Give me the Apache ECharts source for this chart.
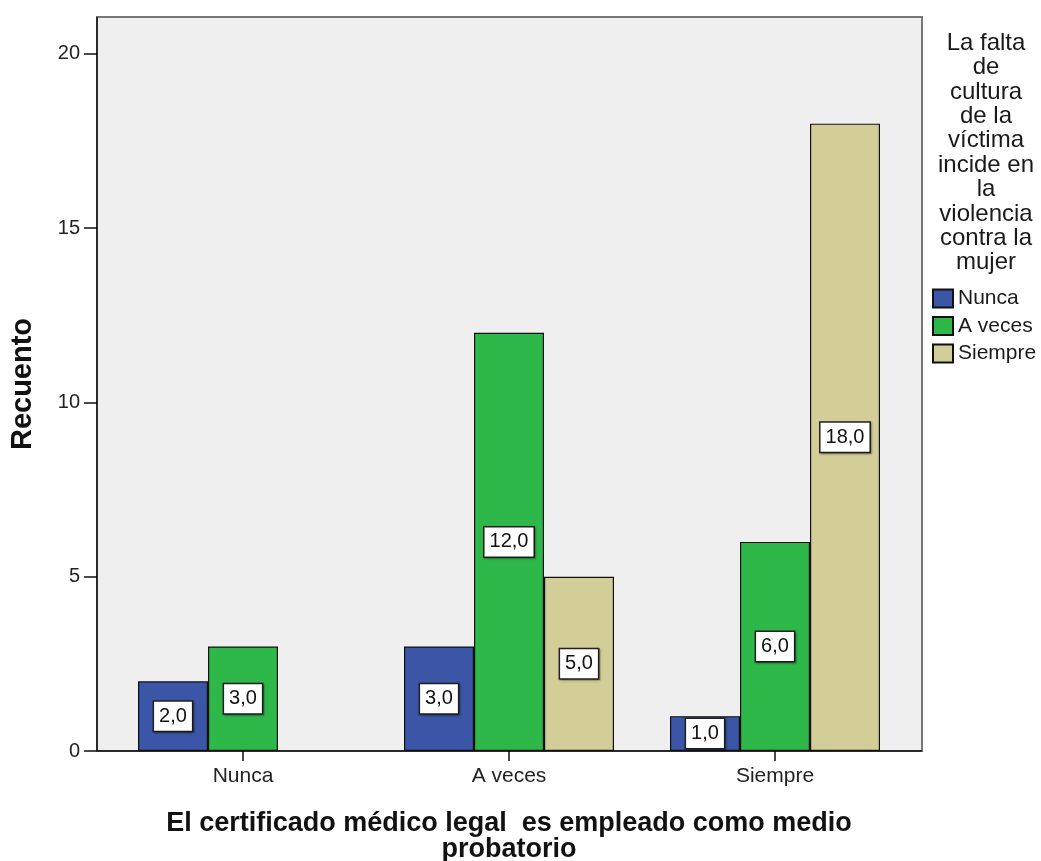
<!DOCTYPE html>
<html>
<head>
<meta charset="utf-8">
<script src="https://cdn.jsdelivr.net/npm/echarts@6/dist/echarts.min.js"></script>
<style>
html,body{margin:0;padding:0;background:#fff}
#chart{width:1041px;height:861px}
</style>
</head>
<body>
<div id="chart"></div>
<script>
// datos
var categorias = ['Nunca', 'A veces', 'Siempre']
var serieNombres = ['Nunca', 'A veces', 'Siempre']
var valNunca = [2, 3, 1]
var valAveces = [3, 12, 6]
var valSiempre = [0, 5, 18]
var ticksY = [0, 5, 10, 15, 20]
var colores = ['#3b56a6', '#2fb84a', '#d3ce98']

var fuente = '"Liberation Sans", Arial, sans-serif'
var todos = [valNunca, valAveces, valSiempre]

var series = []
for (var i = 0; i < serieNombres.length; i++) {
    series.push({
        name: serieNombres[i],
        type: 'bar',
        barWidth: 70,
        barGap: '0%',
        data: todos[i].map(function (v) { return v === 0 ? null : v }),
        itemStyle: { color: colores[i], borderColor: '#111', borderWidth: 1.2 },
        label: {
            show: true,
            position: 'inside',
            formatter: function (p) { return p.value.toFixed(1).replace('.', ',') },
            color: '#111',
            fontFamily: fuente,
            fontSize: 20,
            lineHeight: 22,
            backgroundColor: '#fff',
            borderColor: '#222',
            borderWidth: 1.5,
            padding: [4, 5, 3, 5],
            shadowColor: 'rgba(0,0,0,0.35)',
            shadowBlur: 2,
            shadowOffsetX: 1,
            shadowOffsetY: 1
        }
    })
}

var myChart = echarts.init(document.getElementById('chart'))
var option = {
    animation: false,
    title: {
        text: 'La falta\nde\ncultura\nde la\nvíctima\nincide en\nla\nviolencia\ncontra la\nmujer',
        left: 986,
        top: 31,
        padding: 0,
        textAlign: 'center',
        textStyle: { fontFamily: fuente, fontSize: 24, fontWeight: 'normal', color: '#1a1a1a', lineHeight: 24.4, align: 'center' }
    },
    legend: {
        orient: 'vertical',
        left: 932,
        top: 288,
        padding: 0,
        itemWidth: 20,
        itemHeight: 18,
        itemGap: 6.5,
        icon: 'rect',
        textStyle: { fontFamily: fuente, fontSize: 21, lineHeight: 18, color: '#1a1a1a' },
        data: serieNombres
    },
    graphic: [
        { type: 'rect', z: -10, shape: { x: 97, y: 17, width: 825, height: 734 },
          style: { fill: '#efefef', stroke: '#777', lineWidth: 2 } },
        { type: 'line', z: 10, shape: { x1: 97, y1: 17, x2: 97, y2: 751 }, style: { stroke: '#111', lineWidth: 1.5 } },
        { type: 'line', z: 10, shape: { x1: 97, y1: 751, x2: 922, y2: 751 }, style: { stroke: '#111', lineWidth: 1.5 } }
    ],
    grid: { left: 110, right: 133, top: 17, bottom: 110, outerBoundsMode: 'none', containLabel: false },
    xAxis: {
        type: 'category',
        data: categorias,
        axisLine: { show: false },
        axisTick: { show: true, alignWithLabel: true, length: 10, lineStyle: { color: '#111', width: 1.5 } },
        axisLabel: { fontFamily: fuente, fontSize: 21, color: '#222', margin: 15 },
        name: 'El certificado médico legal  es empleado como medio\nprobatorio',
        nameLocation: 'middle',
        nameGap: 60,
        nameTextStyle: { fontFamily: fuente, fontSize: 27, fontWeight: 'bold', color: '#111', lineHeight: 26 }
    },
    yAxis: {
        type: 'value',
        min: 0,
        max: 21.06,
        offset: 13,
        splitLine: { show: false },
        axisLine: { show: false },
        axisTick: { show: true, length: 13, customValues: ticksY, lineStyle: { color: '#111', width: 1.5 } },
        axisLabel: { customValues: ticksY, fontFamily: fuente, fontSize: 20, color: '#222', margin: 17 },
        name: 'Recuento',
        nameLocation: 'middle',
        nameGap: 60,
        nameTextStyle: { fontFamily: fuente, fontSize: 29, fontWeight: 'bold', color: '#111' }
    },
    series: series
}
myChart.setOption(option)
</script>
</body>
</html>
